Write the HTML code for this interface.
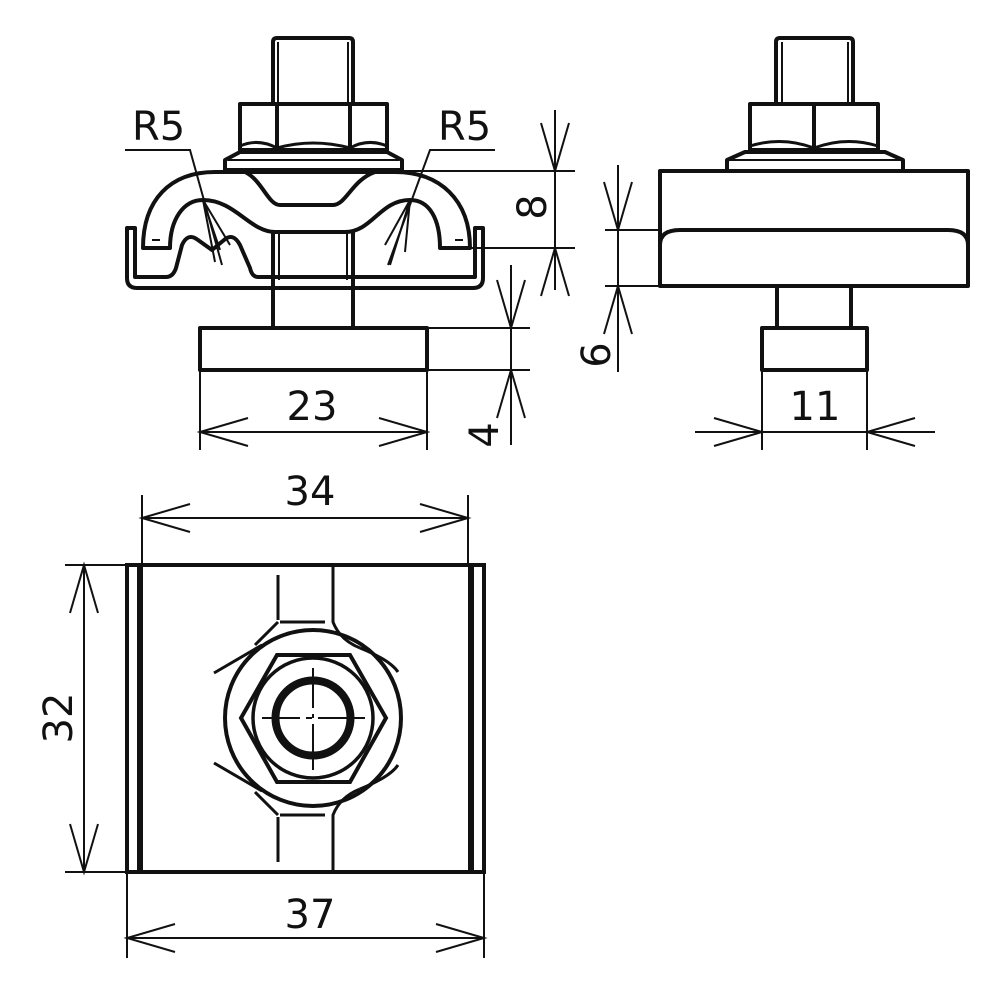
<!DOCTYPE html>
<html><head><meta charset="utf-8"><style>
html,body{margin:0;padding:0;background:#fff;}
svg{display:block}
text{font-family:"DejaVu Sans","Liberation Sans",sans-serif;font-size:40px;fill:#111}
</style></head><body>
<svg width="1000" height="1000" viewBox="0 0 1000 1000" xmlns="http://www.w3.org/2000/svg">
<g fill="none" stroke="#111" stroke-width="4" stroke-linejoin="round">
<!-- ===== LEFT FRONT VIEW ===== -->
<!-- bolt -->
<path d="M273 103 V42 Q273 38 277 38 H349 Q353 38 353 42 V103"/>
<path d="M278 42 V103 M348 42 V103" stroke-width="2"/>
<!-- nut -->
<rect x="240" y="104" width="147" height="46"/>
<path d="M277 104 V150 M350 104 V150"/>
<path d="M240 146 Q258 138 277 148 Q313 138 350 148 Q368 138 387 146" stroke-width="3"/>
<!-- washer -->
<path d="M225 170 V160 L240 152 H387 L402 160 V170 Z"/>
<line x1="228" y1="160" x2="399" y2="160" stroke-width="2"/>
<!-- strap -->
<path d="M143 248 C143 200 170 172 215 172 H395 C440 172 470 200 470 248 H440 C440 220 430 200 410 200 C380 200 372 232 345 232 H275 C250 232 235 200 203 200 C183 200 170 220 170 248 Z"/>
<path d="M245 172 C262 180 268 205 280 205 H333 C346 205 352 180 375 172"/>
<path d="M152 240 H160 M455 240 H463" stroke-width="2"/>
<!-- channel -->
<path d="M127 228 V278 Q127 288 137 288 H473 Q483 288 483 278 V228 H475 V277 H258 Q252 277 250 268 L240 245 Q233 232 224 240 L212 250 L198 240 Q188 232 182 245 L176 268 Q173 277 166 277 H135 V228 Z"/>
<!-- shaft between strap and foot -->
<path d="M273 232 V328 M353 232 V328"/>
<path d="M279 232 V280 M347 232 V280" stroke-width="2"/>
<!-- foot -->
<rect x="200" y="328" width="227" height="42"/>
</g>
<!-- R5 leaders -->
<g fill="none" stroke="#111" stroke-width="2">
<path d="M125 150 H190 L222 265"/>
<path d="M203 200 L220 250 M203 200 L230 245 M203 200 L215 262"/>
<path d="M495 150 H430 L388 265"/>
<path d="M410 200 L385 245 M410 200 L405 252 M410 200 L390 265"/>
</g>
<text x="132" y="140">R5</text>
<text x="438" y="140">R5</text>

<!-- dims left view -->
<g fill="none" stroke="#111" stroke-width="2">
<!-- 23 -->
<path d="M200 370 V450 M427 370 V450 M200 432 H427"/>
<path d="M248 418 L200 432 L248 446 M379 418 L427 432 L379 446"/>
<!-- 4 -->
<path d="M427 328 H530 M427 370 H530 M511 265 V445"/>
<path d="M497 280 L511 328 L525 280 M497 418 L511 370 L525 418"/>
<!-- 8 -->
<path d="M400 171 H575 M470 248 H575 M555 110 V290"/>
<path d="M541 123 L555 171 L569 123 M541 296 L555 248 L569 296"/>
<!-- 6 -->
<path d="M605 230 H660 M605 286 H660 M618 165 V372"/>
<path d="M604 182 L618 230 L632 182 M604 334 L618 286 L632 334"/>
<!-- 11 -->
<path d="M762 370 V450 M867 370 V450 M695 432 H935"/>
<path d="M714 418 L762 432 L714 446 M915 418 L867 432 L915 446"/>
</g>
<text x="312" y="420" text-anchor="middle">23</text>
<text x="815" y="420" text-anchor="middle">11</text>
<text transform="translate(498,435) rotate(-90)" text-anchor="middle">4</text>
<text transform="translate(546,207) rotate(-90)" text-anchor="middle">8</text>
<text transform="translate(610,355) rotate(-90)" text-anchor="middle">6</text>

<!-- ===== RIGHT SIDE VIEW ===== -->
<g fill="none" stroke="#111" stroke-width="4" stroke-linejoin="round">
<path d="M776 103 V42 Q776 38 780 38 H849 Q853 38 853 42 V103"/>
<path d="M782 42 V103 M848 42 V103" stroke-width="2"/>
<rect x="750" y="104" width="128" height="46"/>
<path d="M814 104 V150"/>
<path d="M750 146 Q782 136 814 148 Q846 136 878 146" stroke-width="3"/>
<path d="M727 171 V160 L745 152 H885 L903 160 V171"/>
<line x1="730" y1="160" x2="900" y2="160" stroke-width="2"/>
<rect x="660" y="171" width="308" height="115"/>
<path d="M660 245 Q660 230 680 230 H948 Q968 230 968 245"/>
<path d="M777 286 V328 M851 286 V328"/>
<rect x="762" y="328" width="105" height="42"/>
</g>

<!-- ===== TOP VIEW ===== -->
<g fill="none" stroke="#111" stroke-width="4">
<rect x="127" y="565" width="357" height="307"/>
<line x1="140" y1="565" x2="140" y2="872" stroke-width="6"/>
<line x1="471" y1="565" x2="471" y2="872" stroke-width="6"/>
<path d="M333 565 V622 Q340 640 360 648 M333 872 V815 Q340 797 360 789" stroke-width="3"/>
<path d="M278 575 V620 M278 862 V817" stroke-width="3"/>
<path d="M280 622 H325 M280 815 H325" stroke-width="3"/>
<path d="M278 622 L255 645 M278 815 L255 792" stroke-width="3"/>
<path d="M214 673 L262 645 M214 763 L262 791" stroke-width="3"/>
<path d="M360 648 Q390 660 398 672 M360 789 Q390 777 398 765" stroke-width="3"/>
<circle cx="313" cy="718" r="88" stroke-width="4"/>
<polygon points="241,718 277,655 350,655 386,718 350,782 277,782" stroke-width="4"/>
<circle cx="313" cy="718" r="60" stroke-width="3.5"/>
<circle cx="313" cy="718" r="37.5" stroke-width="8"/>
</g>
<g stroke="#111" stroke-width="2" fill="none">
<path d="M262 718 H300 M306 718 H312 M318 718 H365" />
<path d="M313 668 V708 M313 714 V718 M313 724 V770"/>
<!-- 34 -->
<path d="M142 495 V565 M468 495 V565 M142 518 H468"/>
<path d="M190 504 L142 518 L190 532 M420 504 L468 518 L420 532"/>
<!-- 37 -->
<path d="M127 872 V958 M484 872 V958 M127 938 H484"/>
<path d="M175 924 L127 938 L175 952 M436 924 L484 938 L436 952"/>
<!-- 32 -->
<path d="M65 565 H127 M65 872 H127 M84 565 V872"/>
<path d="M70 613 L84 565 L98 613 M70 824 L84 872 L98 824"/>
</g>
<text x="310" y="505" text-anchor="middle">34</text>
<text x="310" y="928" text-anchor="middle">37</text>
<text transform="translate(72,718) rotate(-90)" text-anchor="middle">32</text>
</svg>
</body></html>
